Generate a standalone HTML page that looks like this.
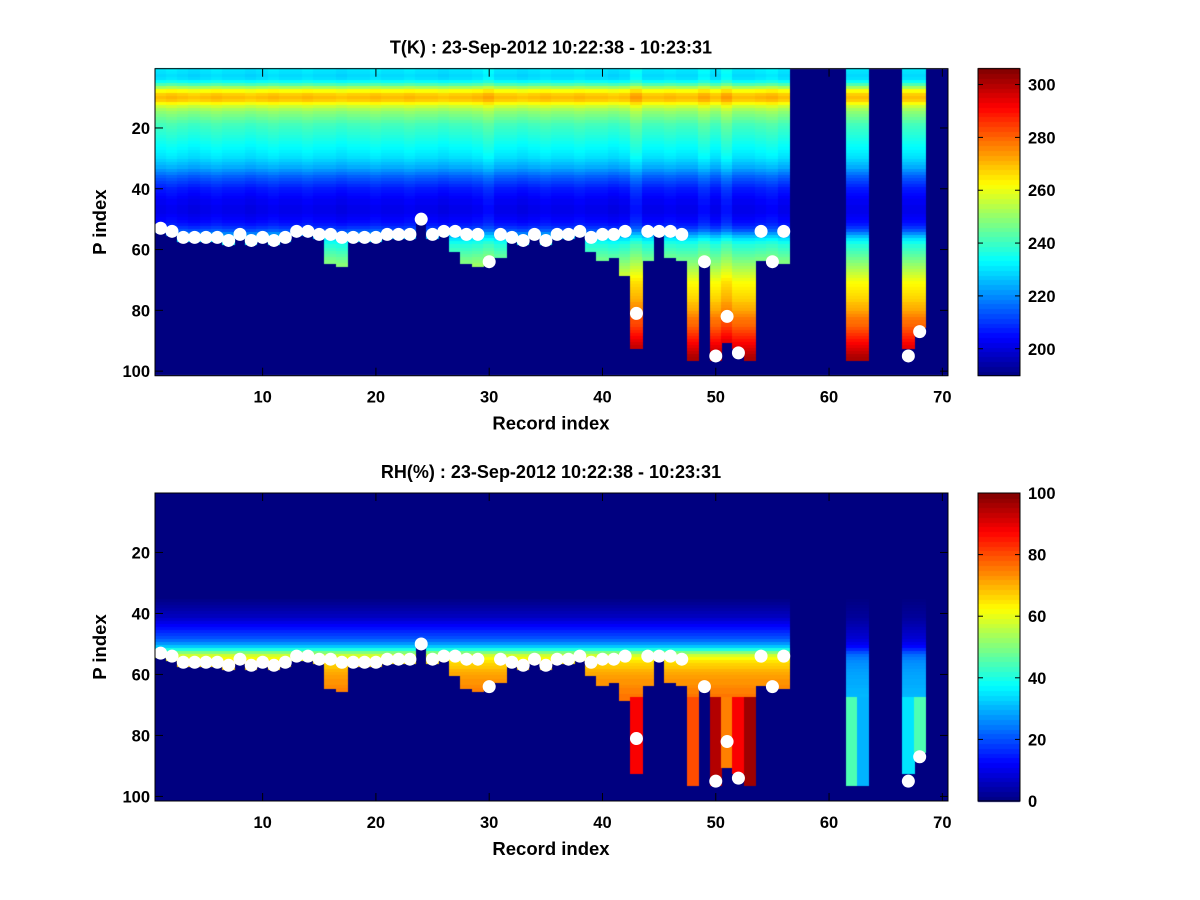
<!DOCTYPE html>
<html><head><meta charset="utf-8"><style>
body{margin:0;background:#fff;width:1200px;height:900px;overflow:hidden;position:relative;font-family:"Liberation Sans",sans-serif}
canvas{position:absolute;left:0;top:0}
svg{position:absolute;left:0;top:0}
text{font-family:"Liberation Sans",sans-serif;font-weight:bold;fill:#000}
</style></head><body>
<canvas id="cv" width="1200" height="900"></canvas>
<svg id="sv" width="1200" height="900"></svg>
<script>
const tProfile=[231,230,229,230,234,242,252,262,268,270,268,262,256,252,249,247,245,243,241,240,239,238,237,236,235,234,233,232,231,230,228,226,224,221,218,215,213,211,209,207,206,205,204,203,203,202,202,202,203,204,205,207,210,214,220,226,231,235,238,240,242,244,246,248,250,252,254,256,258,260,262,263,264,265,266,267,268,270,271,272,274,276,278,279,280,282,284,286,288,290,292,294,296,298,300,301,302,303,304,305,305];
const rhProfile=[0,0,0,0,0,0,0,0,0,0,0,0,0,0,0,0,0,0,0,0,0,0,0,0,0,0,0,0,0,0,0,0,0,0,0,1,2,3,4,5,6,8,10,12,14,16,18,20,23,27,32,40,50,58,62,65,67,68,70,71,72,73,73,74,75,75,76,76,77,78,80,80,81,82,82,83,84,84,85,86,86,87,88,88,89,90,90,91,92,92,93,94,94,95,96,96,97,98,98,99,100];
const dots=[53,54,56,56,56,56,57,55,57,56,57,56,54,54,55,55,56,56,56,56,55,55,55,50,55,54,54,55,55,64,55,56,57,55,57,55,55,54,56,55,55,54,81,54,54,54,55,null,64,95,82,94,null,54,64,54,null,null,null,null,null,null,null,null,null,null,95,87,null,null];
const dataEnd=[54,55,57,57,57,57,58,56,58,57,58,57,55,55,56,64,65,57,57,57,56,56,56,50,56,55,60,64,65,62,62,57,58,56,58,56,56,55,60,63,62,68,92,63,55,62,63,96,63,96,90,92,96,63,63,64,0,0,0,0,0,96,96,0,0,0,92,85,0,0];
const tOffset=[0,1,0,-1,0,1,0,0,-1,0,1,0,0,1,0,0,-1,0,0,1,0,0,1,0,0,-1,0,0,1,3,0,0,-1,0,1,0,0,1,0,0,-1,0,4,0,0,1,0,0,3,0,4,0,0,1,2,0,0,0,0,0,0,0,0,0,0,0,0,0,0,0];
const rhDeep=[null,null,null,null,null,null,null,null,null,null,null,null,null,null,null,null,null,null,null,null,null,null,null,null,null,null,null,null,null,null,null,null,null,null,null,null,null,null,null,null,null,null,88,null,null,null,null,80,null,95,75,88,97,null,null,null,null,null,null,null,null,45,30,null,null,null,35,45,null,null];
const rhScale=[1,1,1,1,1,1,1,1,1,1,1,1,1,1,1,1,1,1,1,1,1,1,1,1,1,1,1,1,1,1,1,1,1,1,1,1,1,1,1,1,1,1,1,1,1,1,1,1,1,1,1,1,1,1,1,1,1,1,1,1,1,0.4,0.4,1,1,1,0.4,0.4,1,1];
const xTicks=[10,20,30,40,50,60,70];
const yTicks=[20,40,60,80,100];
const tTicks=[200,220,240,260,280,300];
const rhTicks=[0,20,40,60,80,100];
const tTitle="T(K) : 23-Sep-2012 10:22:38 - 10:23:31";
const rhTitle="RH(%) : 23-Sep-2012 10:22:38 - 10:23:31";

function jet(t){t=Math.max(0,Math.min(1,t));const c=v=>Math.round(255*Math.max(0,Math.min(1,v)));
return `rgb(${c(1.5-Math.abs(4*t-3))},${c(1.5-Math.abs(4*t-2))},${c(1.5-Math.abs(4*t-1))})`;}
const ctx=document.getElementById('cv').getContext('2d');
const sv=document.getElementById('sv');const NS='http://www.w3.org/2000/svg';
function el(tag,attrs,txt){const e=document.createElementNS(NS,tag);for(const k in attrs)e.setAttribute(k,attrs[k]);if(txt!==undefined)e.textContent=txt;sv.appendChild(e);return e;}
const L=155,R=948;
const xs=c=>L+(c-0.5)*(R-L)/70;
function panel(top,bottom,vmin,vmax,valFn,title,cbTicks,name){
  const ys=l=>top+(l-0.5)*(bottom-top)/101;
  ctx.fillStyle=jet(0);ctx.fillRect(L,top,R-L,bottom-top);
  for(let c=1;c<=70;c++){for(let l=1;l<=101;l++){const v=valFn(c,l);if(v===null)continue;
    ctx.fillStyle=jet((v-vmin)/(vmax-vmin));
    const x0=Math.floor(xs(c-0.5)),x1=Math.ceil(xs(c+0.5)),y0=Math.floor(ys(l-0.5)),y1=Math.ceil(ys(l+0.5));
    ctx.fillRect(x0,y0,x1-x0,y1-y0);}}
  for(let c=1;c<=70;c++){const d=dots[c-1];if(d===null)continue;
    const dt=el('circle',{cx:xs(c),cy:ys(d),r:6.5,fill:'#fff'});
    
    }
  const box=el('rect',{x:L,y:top,width:R-L,height:bottom-top,fill:'none',stroke:'#000','stroke-width':1});
  
  xTicks.forEach(t=>{const x=xs(t);el('line',{x1:x,x2:x,y1:bottom,y2:bottom-8,stroke:'#000'});el('line',{x1:x,x2:x,y1:top,y2:top+8,stroke:'#000'});
    const tx=el('text',{x:x,y:bottom+27,'text-anchor':'middle','font-size':16.5},t);});
  yTicks.forEach(t=>{const y=ys(t);el('line',{x1:L,x2:L+8,y1:y,y2:y,stroke:'#000'});el('line',{x1:R,x2:R-8,y1:y,y2:y,stroke:'#000'});
    const tx=el('text',{x:L-5,y:y+6,'text-anchor':'end','font-size':16.5},t);});
  const ti=el('text',{x:551,y:top-15,'text-anchor':'middle','font-size':18},title);
  const xl=el('text',{x:551,y:bottom+54,'text-anchor':'middle','font-size':18.5},'Record index');
  const yl=el('text',{x:0,y:0,'text-anchor':'middle','font-size':18.5,transform:`translate(106,${(top+bottom)/2}) rotate(-90)`},'P index');
  const cx0=978,cx1=1020,cbMin=name==='t'?189.8:0,cbMax=name==='t'?306:100;
  for(let i=0;i<64;i++){ctx.fillStyle=jet((i+0.5)/64);const y0=bottom-(i+1)*(bottom-top)/64;ctx.fillRect(cx0,Math.floor(y0),cx1-cx0,Math.ceil((bottom-top)/64)+1);}
  const cb=el('rect',{x:cx0,y:top,width:cx1-cx0,height:bottom-top,fill:'none',stroke:'#000'});
  cbTicks.forEach(t=>{const y=bottom-(t-cbMin)/(cbMax-cbMin)*(bottom-top);
    el('line',{x1:cx0,x2:cx0+5,y1:y,y2:y,stroke:'#000'});el('line',{x1:cx1,x2:cx1-5,y1:y,y2:y,stroke:'#000'});
    const tx=el('text',{x:1028,y:y+6,'font-size':16.5},t);});
}
panel(68.7,375.7,189.8,306,(c,l)=>l>dataEnd[c-1]?null:tProfile[l-1]+tOffset[c-1],tTitle,tTicks,'t');
panel(493,801,0,100,(c,l)=>{if(l>dataEnd[c-1])return null;if(l>=68&&rhDeep[c-1]!==null)return rhDeep[c-1];return rhProfile[l-1]*rhScale[c-1];},rhTitle,rhTicks,'rh');
</script>
</body></html>
